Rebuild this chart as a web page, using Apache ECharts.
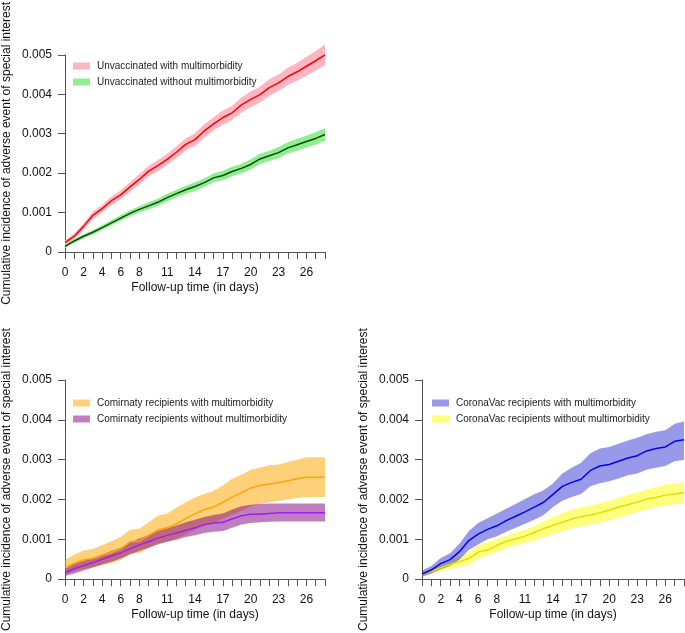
<!DOCTYPE html>
<html>
<head>
<meta charset="utf-8">
<script src="https://cdn.jsdelivr.net/npm/echarts@6/dist/echarts.min.js"></script>
<style>
  html, body { margin: 0; padding: 0; background: #fff; }
  #main { width: 685px; height: 633px; }
</style>
</head>
<body>
<div id="main"></div>
<script>
// follow-up days and the day labels that are printed
var days = [0,1,2,3,4,5,6,7,8,9,10,11,12,13,14,15,16,17,18,19,20,21,22,23,24,25,26,27,28];
var xLabelDays = [0,2,4,6,8,11,14,17,20,23,26];

// unvaccinated
var unvacMM     = [0.00024,0.0004,0.00065,0.00093,0.0011,0.0013,0.00145,0.00165,0.00184,0.00205,0.00219,0.00235,0.00253,0.00273,0.00285,0.00307,0.00325,0.00341,0.00353,0.00373,0.00387,0.00399,0.00417,0.00429,0.00445,0.00457,0.00471,0.00485,0.005];
var unvacMMUp   = [0.0003,0.00047,0.00073,0.00103,0.0012,0.00141,0.00156,0.00177,0.00197,0.00218,0.00233,0.00249,0.00268,0.00288,0.00301,0.00324,0.00342,0.00359,0.00371,0.00392,0.00407,0.00419,0.00438,0.0045,0.00467,0.0048,0.00495,0.0051,0.00526];
var unvacMMLo   = [0.00018,0.00033,0.00057,0.00083,0.001,0.00119,0.00134,0.00153,0.00171,0.00192,0.00205,0.00221,0.00238,0.00258,0.00269,0.0029,0.00308,0.00323,0.00335,0.00354,0.00367,0.00379,0.00396,0.00408,0.00423,0.00434,0.00447,0.0046,0.00474];
var unvacNo     = [0.00014,0.00028,0.0004,0.0005,0.00062,0.00074,0.00086,0.00098,0.00108,0.00117,0.00126,0.00138,0.00148,0.00158,0.00166,0.00176,0.00188,0.00194,0.00204,0.00212,0.00222,0.00236,0.00244,0.00252,0.00264,0.00272,0.0028,0.00288,0.00298];
var unvacNoUp   = [0.00018,0.00033,0.00045,0.00056,0.00068,0.00081,0.00093,0.00106,0.00116,0.00126,0.00135,0.00148,0.00158,0.00168,0.00177,0.00187,0.00199,0.00206,0.00216,0.00224,0.00235,0.00249,0.00257,0.00266,0.00278,0.00287,0.00295,0.00304,0.00314];
var unvacNoLo   = [0.0001,0.00023,0.00035,0.00044,0.00056,0.00067,0.00079,0.0009,0.001,0.00108,0.00117,0.00128,0.00138,0.00148,0.00155,0.00165,0.00177,0.00182,0.00192,0.002,0.00209,0.00223,0.00231,0.00238,0.0025,0.00257,0.00265,0.00272,0.00282];

// comirnaty
var comiMM      = [0.00029,0.0004,0.00049,0.00052,0.0006,0.00067,0.00076,0.00094,0.00096,0.0011,0.00124,0.00129,0.00139,0.00152,0.00164,0.00175,0.00181,0.00193,0.00206,0.00217,0.00229,0.00235,0.00239,0.00242,0.00247,0.00252,0.00256,0.00256,0.00256];
var comiMMUp    = [0.00048,0.00062,0.00072,0.00076,0.00086,0.00095,0.00106,0.00124,0.00127,0.00143,0.00159,0.00165,0.00179,0.00193,0.00205,0.00214,0.00222,0.00235,0.00252,0.00262,0.00275,0.0028,0.00286,0.00288,0.00294,0.003,0.00306,0.00306,0.00306];
var comiMMLo    = [0.00012,0.0002,0.00026,0.0003,0.00036,0.0004,0.00048,0.00064,0.00066,0.00078,0.0009,0.00094,0.00102,0.00112,0.00124,0.00134,0.0014,0.00152,0.00162,0.00172,0.00183,0.00189,0.00193,0.00196,0.002,0.00204,0.00206,0.00206,0.00206];
var comiNo      = [0.00016,0.00026,0.00034,0.00042,0.0005,0.00058,0.00066,0.00076,0.00086,0.00094,0.00103,0.0011,0.00116,0.00123,0.00129,0.00137,0.00141,0.00143,0.00151,0.00159,0.00163,0.00163,0.00165,0.00167,0.00167,0.00167,0.00167,0.00167,0.00167];
var comiNoUp    = [0.00026,0.00038,0.00046,0.00054,0.00062,0.00071,0.00079,0.00092,0.00102,0.00111,0.00121,0.00128,0.00135,0.00143,0.00149,0.00156,0.00161,0.00165,0.00175,0.00183,0.00187,0.00189,0.0019,0.0019,0.0019,0.0019,0.0019,0.0019,0.0019];
var comiNoLo    = [0.00008,0.00014,0.00022,0.00029,0.00037,0.00044,0.00052,0.00062,0.00071,0.00079,0.00087,0.00094,0.00099,0.00106,0.0011,0.00116,0.00119,0.00121,0.00129,0.00137,0.00141,0.00143,0.00144,0.00145,0.00145,0.00145,0.00145,0.00145,0.00145];

// coronavac
var coroMM      = [0.00013,0.00023,0.00039,0.00049,0.00069,0.00097,0.00113,0.00125,0.00134,0.00147,0.00158,0.00169,0.00181,0.00193,0.00213,0.00233,0.00243,0.00251,0.00273,0.00284,0.00288,0.00296,0.00304,0.0031,0.00322,0.00328,0.00332,0.00346,0.0035];
var coroMMUp    = [0.00022,0.00033,0.00053,0.00065,0.00089,0.00121,0.00141,0.00153,0.00165,0.00177,0.00189,0.00201,0.00213,0.00223,0.0024,0.00265,0.0028,0.00292,0.00316,0.00328,0.00332,0.0034,0.00348,0.00355,0.00364,0.0037,0.00374,0.0039,0.00396];
var coroMMLo    = [0.00006,0.00014,0.00025,0.00033,0.00049,0.00073,0.00087,0.001,0.00108,0.00119,0.00129,0.00139,0.00149,0.00161,0.00181,0.00197,0.00206,0.00214,0.00233,0.00241,0.00246,0.00253,0.00261,0.00265,0.00275,0.0028,0.00284,0.00296,0.003];
var coroNo      = [0.00012,0.0002,0.00029,0.00037,0.00044,0.00052,0.00068,0.00073,0.00085,0.00095,0.00101,0.00108,0.00117,0.00127,0.00135,0.00143,0.00151,0.00157,0.00161,0.00167,0.00173,0.00181,0.00187,0.00193,0.00201,0.00205,0.00211,0.00214,0.00217];
var coroNoUp    = [0.00018,0.00028,0.00037,0.00047,0.00057,0.00068,0.00085,0.00093,0.00101,0.00109,0.00117,0.00125,0.00133,0.00145,0.00157,0.00166,0.00175,0.0018,0.00185,0.00191,0.00197,0.00204,0.00211,0.00218,0.00225,0.00231,0.00237,0.0024,0.00243];
var coroNoLo    = [0.00006,0.00013,0.0002,0.00026,0.00031,0.00036,0.00052,0.0006,0.00069,0.00077,0.00085,0.00091,0.00097,0.00105,0.00113,0.0012,0.00127,0.00132,0.00137,0.00142,0.00147,0.00154,0.00161,0.00168,0.00175,0.0018,0.00185,0.00188,0.0019];

var FONT = 'Liberation Sans, Arial, sans-serif';
var AXIS_COLOR = '#555';
var yTitle = 'Cumulative incidence of adverse event of special interest';
var xTitle = 'Follow-up time (in days)';

var grids = [
  {left: 63, top: 42, width: 262, height: 210},
  {left: 63, top: 380, width: 262, height: 209},
  {left: 422, top: 380, width: 262, height: 209}
];

function xAxisFor(i) {
  return {
    type: 'category', gridIndex: i, data: days.map(String), boundaryGap: false,
    name: xTitle, nameLocation: 'middle', nameGap: 30,
    nameTextStyle: {fontFamily: FONT, fontSize: 12, color: '#111'},
    axisLine: {lineStyle: {color: AXIS_COLOR, width: 1}},
    axisTick: {interval: 0, length: 7, lineStyle: {color: AXIS_COLOR}},
    axisLabel: {
      interval: function (idx, val) { return xLabelDays.indexOf(+val) >= 0; },
      fontFamily: FONT, fontSize: 12, color: '#111', margin: 15
    },
    splitLine: {show: false}
  };
}
function yAxisFor(i) {
  return {
    type: 'value', gridIndex: i, min: 0, max: 0.005, interval: 0.001,
    name: yTitle, nameLocation: 'middle', nameGap: 52, nameRotate: 90,
    nameTextStyle: {fontFamily: FONT, fontSize: 12, color: '#111'},
    axisLine: {show: true, lineStyle: {color: AXIS_COLOR, width: 1}},
    axisTick: {show: true, length: 7, lineStyle: {color: AXIS_COLOR}},
    axisLabel: {
      formatter: function (v) { return v === 0 ? '0' : v.toFixed(3); },
      fontFamily: FONT, fontSize: 12, color: '#111', margin: 13
    },
    splitLine: {show: false}
  };
}

function band(i, name, lo, up, color) {
  var st = 'band' + name;
  return [
    {type: 'line', xAxisIndex: i, yAxisIndex: i, stack: st, data: lo, symbol: 'none',
     silent: true, clip: false, lineStyle: {opacity: 0}, itemStyle: {color: color}},
    {type: 'line', name: name, xAxisIndex: i, yAxisIndex: i, stack: st,
     data: up.map(function (u, k) { return u - lo[k]; }), symbol: 'none', silent: true, clip: false,
     lineStyle: {opacity: 0}, itemStyle: {color: color}, areaStyle: {color: color, opacity: 1}}
  ];
}
function curve(i, vals, color) {
  return {type: 'line', xAxisIndex: i, yAxisIndex: i, data: vals, symbol: 'none', silent: true,
          clip: false, lineStyle: {color: color, width: 1.5}, z: 3};
}
function legendFor(left, top, names) {
  return {
    orient: 'vertical', left: left, top: top, data: names, icon: 'rect', padding: 0,
    itemWidth: 17, itemHeight: 7, itemGap: 6, selectedMode: false,
    textStyle: {fontFamily: FONT, fontSize: 10, color: '#222', padding: [0, 0, 0, 2]}
  };
}

var n1a = 'Unvaccinated with multimorbidity', n1b = 'Unvaccinated without multimorbidity';
var n2a = 'Comirnaty recipients with multimorbidity', n2b = 'Comirnaty recipients without multimorbidity';
var n3a = 'CoronaVac recipients with multimorbidity', n3b = 'CoronaVac recipients without multimorbidity';

var series = [].concat(
  band(0, n1a, unvacMMLo, unvacMMUp, '#FFB6C1'),
  band(0, n1b, unvacNoLo, unvacNoUp, '#90EE90'),
  [curve(0, unvacMM, '#FF0000'), curve(0, unvacNo, '#0B4A0B')],
  band(1, n2a, comiMMLo, comiMMUp, 'rgba(255,165,0,0.52)'),
  band(1, n2b, comiNoLo, comiNoUp, 'rgba(128,0,128,0.5)'),
  [curve(1, comiMM, '#FFA500'), curve(1, comiNo, '#A020F0')],
  band(2, n3b, coroNoLo, coroNoUp, 'rgba(255,255,0,0.5)'),
  [curve(2, coroNo, '#E0E000')],
  band(2, n3a, coroMMLo, coroMMUp, 'rgba(0,0,200,0.4)'),
  [curve(2, coroMM, '#0000FF')]
);

var chart = echarts.init(document.getElementById('main'), null, {renderer: 'canvas'});
chart.setOption({
  animation: false,
  backgroundColor: '#fff',
  grid: grids,
  xAxis: [xAxisFor(0), xAxisFor(1), xAxisFor(2)],
  yAxis: [yAxisFor(0), yAxisFor(1), yAxisFor(2)],
  legend: [
    legendFor(73, 61, [n1a, n1b]),
    legendFor(73, 398, [n2a, n2b]),
    legendFor(432, 398, [n3a, n3b])
  ],
  series: series
});
</script>
</body>
</html>
